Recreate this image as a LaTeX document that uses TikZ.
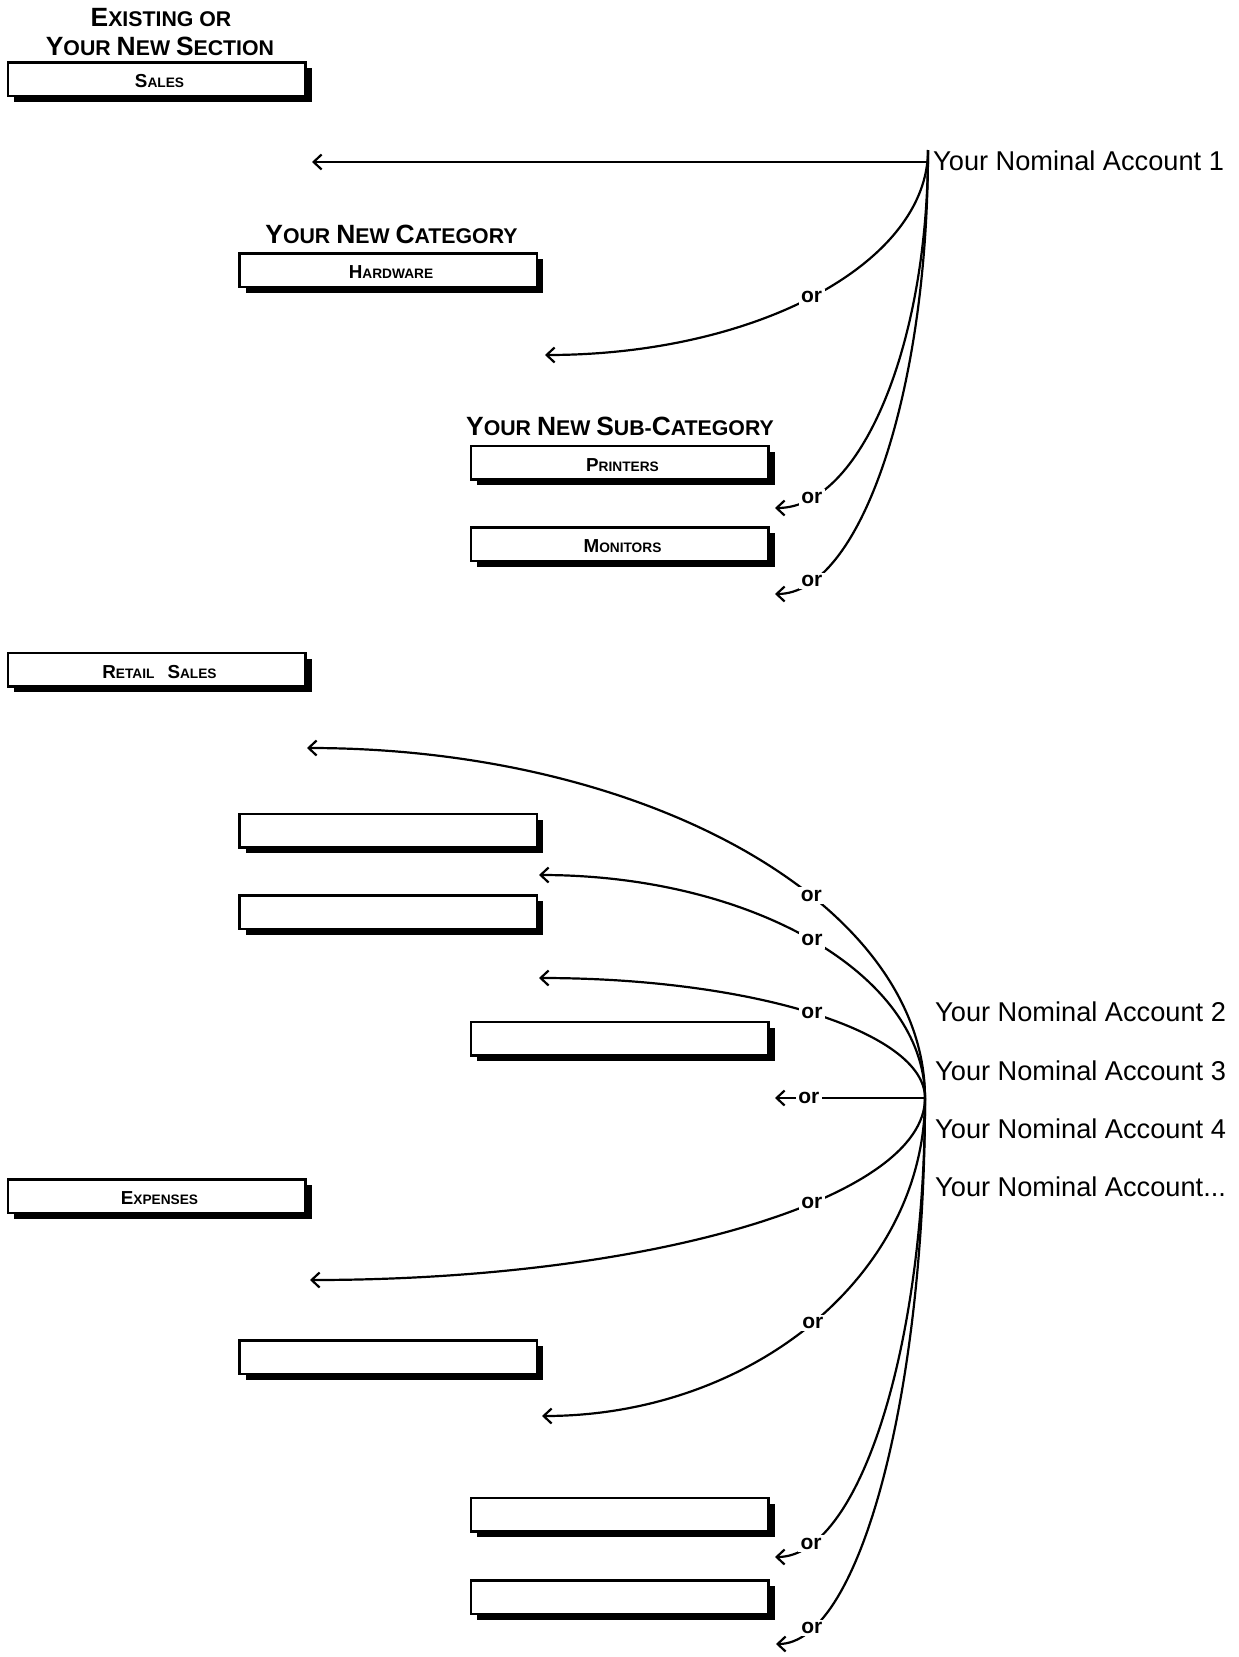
\documentclass[tikz,border=0pt]{standalone}
\usepackage{fontspec}
\setmainfont{Liberation Sans}
\usetikzlibrary{arrows.meta,shadows}
\newcommand\HB{\fontsize{26.4}{28.3}\selectfont}
\newcommand\HS{\fontsize{21.3}{28.3}\selectfont}
\newcommand\LB{\fontsize{18.8}{20}\selectfont}
\newcommand\LS{\fontsize{13.7}{20}\selectfont}
\begin{document}
\begin{tikzpicture}[x=1pt,y=-1pt,
  box/.style={draw, line width=2.5pt, fill=white, minimum width=297.5pt, minimum height=33.5pt, inner sep=0pt,
    drop shadow={shadow xshift=6.5pt, shadow yshift=-6pt, opacity=1, fill=black}},
  blbl/.style={font=\bfseries, xshift=3pt, yshift=-2.5pt, inner sep=0pt},
  head/.style={font=\bfseries, inner sep=0pt, anchor=base},
  acc/.style={font=\fontsize{27.2}{29}\selectfont, anchor=west, inner sep=0pt},
  arr/.style={line width=2.2pt, -{Straight Barb[length=8pt,width=15pt]}},
  orl/.style={font=\bfseries\fontsize{21}{22}\selectfont, fill=white, inner sep=2.5pt},
]
\useasboundingbox (0,0) rectangle (1239,1657);

% headings
\node[head] (hsec1) at (161,26.7) {\HB E\HS XISTING OR};
\node[head] (hsec2) at (160,55) {\HB Y\HS OUR \HB N\HS EW \HB S\HS ECTION};
\node[head] (hcat) at (391.5,243) {\HB Y\HS OUR \HB N\HS EW \HB C\HS ATEGORY};
\node[head] (hsub) at (620,435) {\HB Y\HS OUR \HB N\HS EW \HB S\HS UB-\HB C\HS ATEGORY};

% boxes
\node[box, label={[blbl]center:{\LB S\LS ALES}}] (sales) at (156.5,79) {};
\node[box, label={[blbl]center:{\LB H\LS ARDWARE}}] (hard) at (388,270) {};
\node[box, label={[blbl]center:{\LB P\LS RINTERS}}] (print) at (619.5,462.5) {};
\node[box, label={[blbl]center:{\LB M\LS ONITORS}}] (mon) at (619.5,544) {};
\node[box, label={[blbl]center:{\LB R\LS ETAIL\hspace{13pt}\LB S\LS ALES}}] (retail) at (156.5,669.5) {};
\node[box] (e1) at (388,830.5) {};
\node[box] (e2) at (388,912) {};
\node[box] (e3) at (619.5,1038.5) {};
\node[box, label={[blbl]center:{\LB E\LS XPENSES}}] (exp) at (156.5,1196) {};
\node[box] (e4) at (388,1357) {};
\node[box] (e5) at (619.5,1514.5) {};
\node[box] (e6) at (619.5,1597) {};

% account labels
\node[acc] (acc1) at (933,161) {Your Nominal Account 1};
\node[acc] (acc2) at (935,1012) {Your Nominal Account 2};
\node[acc] (acc3) at (935,1070.5) {Your Nominal Account 3};
\node[acc] (acc4) at (935,1128.5) {Your Nominal Account 4};
\node[acc] (acc5) at (935,1187) {Your Nominal Account...};

% junctions and tips
\coordinate (J1) at (928,150);
\coordinate (J1h) at (928,162);
\coordinate (J2) at (925,1098);
\coordinate (t1) at (312,162);
\coordinate (t2) at (545,355);
\coordinate (t3) at (775,508);
\coordinate (t4) at (775,594);
\coordinate (ta) at (307,748);
\coordinate (tb) at (539,875);
\coordinate (tc) at (539,978);
\coordinate (td) at (775,1098);
\coordinate (te) at (310,1280);
\coordinate (tf) at (542,1416);
\coordinate (tg) at (775,1557);
\coordinate (th) at (776,1644);

% top connectors
\draw[line width=2.2pt] (J1) -- (J1h);
\draw[arr] (J1h) -- (t1);
\draw[arr] (J1) .. controls +(0,113) and +(211.5,0) .. node[orl,pos=0.51]{or} (t2);
\draw[arr] (J1) .. controls +(0,198) and +(84.5,0) .. node[orl,pos=0.85]{or} (t3);
\draw[arr] (J1) .. controls +(0,245) and +(84.5,0) .. node[orl,pos=0.85]{or} (t4);

% lower connectors
\draw[arr] (J2) .. controls +(0,-193.3) and +(341.3,0) .. node[orl,pos=0.39]{or} (ta);
\draw[arr] (J2) .. controls +(0,-123.2) and +(213.2,0) .. node[orl,pos=0.5]{or} (tb);
\draw[arr] (J2) .. controls +(0,-66.3) and +(213.2,0) .. node[orl,pos=0.5]{or} (tc);
\draw[arr] (J2) -- node[orl,pos=0.775]{or} (td);
\draw[arr] (J2) .. controls +(0,100.5) and +(339.7,0) .. node[orl,pos=0.39]{or} (te);
\draw[arr] (J2) .. controls +(0,175.6) and +(211.5,0) .. node[orl,pos=0.5]{or} (tf);
\draw[arr] (J2) .. controls +(0,253.5) and +(82.8,0) .. node[orl,pos=0.85]{or} (tg);
\draw[arr] (J2) .. controls +(0,301.6) and +(82.3,0) .. node[orl,pos=0.85]{or} (th);
\end{tikzpicture}
\end{document}
